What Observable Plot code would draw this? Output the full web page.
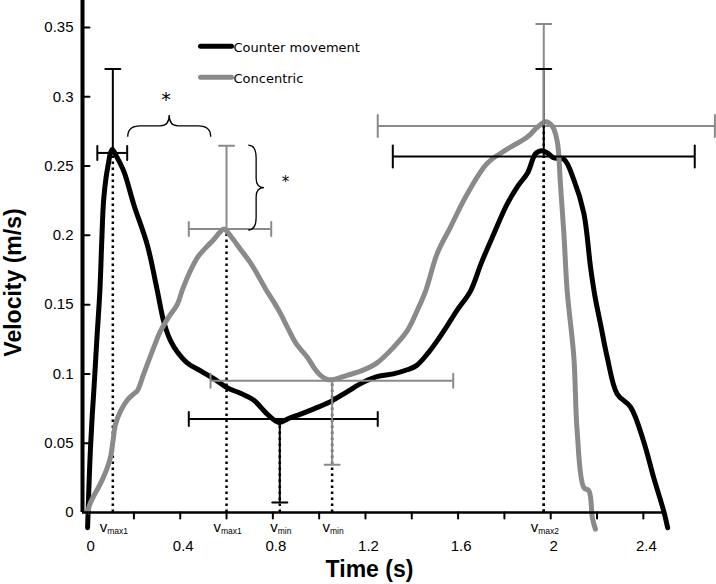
<!DOCTYPE html>
<html><head><meta charset="utf-8">
<script src="https://cdn.jsdelivr.net/npm/d3@7"></script>
<script src="https://cdn.jsdelivr.net/npm/@observablehq/plot@0.6"></script>
<style>html,body{margin:0;padding:0;background:#fff}</style>
</head><body><div id="chart"></div>
<script>
// ---------- data ----------
const seriesNames = ["Counter movement", "Concentric"];

// Counter movement curve: [time (s), velocity (m/s)]
const cmPoints = [
  [0.000,-0.011],[0.005,0.015],[0.012,0.045],[0.020,0.070],[0.027,0.088],[0.040,0.125],
  [0.053,0.160],[0.061,0.195],[0.069,0.225],[0.080,0.242],[0.090,0.252],[0.098,0.259],
  [0.107,0.262],[0.125,0.257],[0.157,0.246],[0.200,0.222],[0.258,0.193],[0.300,0.161],
  [0.330,0.137],[0.358,0.124],[0.387,0.116],[0.430,0.108],[0.490,0.102],[0.550,0.096],
  [0.603,0.090],[0.660,0.086],[0.718,0.081],[0.776,0.071],[0.826,0.065],[0.870,0.068],
  [0.920,0.071],[0.980,0.075],[1.049,0.080],[1.120,0.087],[1.179,0.093],[1.250,0.098],
  [1.320,0.100],[1.380,0.103],[1.420,0.106],[1.470,0.115],[1.510,0.124],[1.550,0.134],
  [1.596,0.146],[1.654,0.160],[1.700,0.180],[1.754,0.201],[1.810,0.222],[1.860,0.236],
  [1.900,0.245],[1.935,0.259],[1.963,0.261],[1.990,0.259],[2.012,0.256],[2.057,0.255],
  [2.100,0.240],[2.143,0.216],[2.172,0.177],[2.190,0.157],[2.215,0.136],[2.244,0.112],
  [2.287,0.0855],[2.345,0.076],[2.400,0.052],[2.445,0.025],[2.488,0.001],[2.505,-0.011]
];

// Concentric curve: [time (s), velocity (m/s)]
const conPoints = [
  [0.000,0.000],[0.010,0.006],[0.030,0.013],[0.056,0.021],[0.080,0.030],[0.099,0.040],
  [0.110,0.052],[0.121,0.064],[0.145,0.074],[0.171,0.081],[0.195,0.085],[0.215,0.088],
  [0.240,0.099],[0.258,0.107],[0.290,0.121],[0.315,0.131],[0.350,0.141],[0.387,0.150],
  [0.410,0.161],[0.440,0.173],[0.474,0.184],[0.510,0.191],[0.545,0.197],[0.570,0.202],
  [0.589,0.2046],[0.620,0.199],[0.660,0.190],[0.700,0.181],[0.733,0.172],[0.770,0.161],
  [0.804,0.152],[0.835,0.143],[0.862,0.134],[0.900,0.122],[0.949,0.112],[0.980,0.104],
  [1.006,0.099],[1.035,0.096],[1.063,0.096],[1.120,0.099],[1.179,0.102],[1.250,0.108],
  [1.320,0.119],[1.380,0.131],[1.424,0.146],[1.460,0.160],[1.510,0.187],[1.567,0.206],
  [1.640,0.230],[1.726,0.252],[1.800,0.261],[1.899,0.271],[1.942,0.278],[1.978,0.282],
  [2.006,0.279],[2.028,0.268],[2.042,0.237],[2.057,0.201],[2.071,0.160],[2.100,0.112],
  [2.114,0.059],[2.143,0.018],[2.165,0.0157],[2.180,-0.004],[2.193,-0.012]
];

// Key points with mean ± SD error bars
const markerSeries  = ["Counter movement","Concentric","Counter movement","Concentric","Counter movement","Concentric"];
const markerName    = ["max1","max1","min","min","max2","max2"];
const markerTime    = [0.109, 0.600, 0.830, 1.056, 1.970, 1.970];
const markerVel     = [0.2595, 0.2046, 0.0674, 0.0951, 0.257, 0.279];
const markerTimeLo  = [0.042, 0.437, 0.437, 0.531, 1.318, 1.253];
const markerTimeHi  = [0.171, 0.793, 1.253, 1.579, 2.622, 2.709];
const markerVelEnd  = [0.320, 0.2647, 0.0072, 0.0344, 0.320, 0.3526];

// labels under the axis
const vLabelTime = [0.109, 0.600, 0.830, 1.056, 1.970];
const vLabelSub  = ["max1", "max1", "min", "min", "max2"];

// significance annotations
const hBrace = {x1: 0.1754, x2: 0.5338, y: 0.2708, tip: 0.2865};
const vBrace = {y1: 0.2648, y2: 0.2035, x: 0.696, tip: 0.764};
const starTime = [0.339, 0.855];
const starVel  = [0.298, 0.2384];

// axes
const xDomain = [-0.022, 2.5];
const yDomain = [0, 0.3695];
const xTicks = [0, 0.2, 0.4, 0.6, 0.8, 1.0, 1.2, 1.4, 1.6, 1.8, 2.0, 2.2, 2.4];
const xTickLabels = [0, 0.4, 0.8, 1.2, 1.6, 2, 2.4];
const yTicks = [0, 0.05, 0.1, 0.15, 0.2, 0.25, 0.3, 0.35];

// ---------- build ----------
const GRAY = "#8a8a8a";
const seriesColors = ["#000000", GRAY];
const cm  = cmPoints.map(([t, v]) => ({t, v, s: seriesNames[0]}));
const con = conPoints.map(([t, v]) => ({t, v, s: seriesNames[1]}));
const markers = markerTime.map((t, i) => ({
  s: markerSeries[i], name: markerName[i], t, v: markerVel[i],
  lo: markerTimeLo[i], hi: markerTimeHi[i], end: markerVelEnd[i]
}));
const hCaps = markers.flatMap(m => [{s: m.s, name: m.name, t: m.lo, v: m.v}, {s: m.s, name: m.name, t: m.hi, v: m.v}]);
const vLabels = vLabelTime.map((t, i) => ({t, sub: vLabelSub[i]}));
const stars = starTime.map((t, i) => ({t, v: starVel[i], big: i === 0}));

const lineShape = {draw(ctx, l) { ctx.moveTo(0, 0); ctx.lineTo(0, -l); }};

function braces(index, scales) {
  const X = scales.x, Y = scales.y;
  const g = d3.create("svg:g").attr("fill", "none").attr("stroke", "#000").attr("stroke-width", 1.3);
  { // horizontal brace, tip up
    const x1 = X(hBrace.x1), x2 = X(hBrace.x2), yb = Y(hBrace.y), yt = Y(hBrace.tip);
    const xm = (x1 + x2) / 2, ym = (yb + yt) / 2, w = (x2 - x1) / 2;
    g.append("path").attr("d",
      `M${x1},${yb} Q${x1},${ym} ${x1 + 0.3 * w},${ym} L${xm - 0.22 * w},${ym} Q${xm},${ym} ${xm},${yt}` +
      ` Q${xm},${ym} ${xm + 0.22 * w},${ym} L${x2 - 0.3 * w},${ym} Q${x2},${ym} ${x2},${yb}`);
  }
  { // vertical brace, tip right
    const y1 = Y(vBrace.y1), y2 = Y(vBrace.y2), xe = X(vBrace.x), xt = X(vBrace.tip);
    const ymid = (y1 + y2) / 2, xa = (xe + xt) / 2, h = (y2 - y1) / 2;
    g.append("path").attr("d",
      `M${xe},${y1} Q${xa},${y1} ${xa},${y1 + 0.3 * h} L${xa},${ymid - 0.22 * h} Q${xa},${ymid} ${xt},${ymid}` +
      ` Q${xa},${ymid} ${xa},${ymid + 0.22 * h} L${xa},${y2 - 0.3 * h} Q${xa},${y2} ${xe},${y2}`);
  }
  return g.node();
}

const legendFont = "'DejaVu Sans', Verdana, sans-serif";

const chart = Plot.plot({
  width: 716, height: 584,
  marginLeft: 82, marginRight: 50, marginTop: 0, marginBottom: 72,
  style: {fontFamily: "'Liberation Sans', Arial, sans-serif", fontSize: "15px", color: "#000", background: "#fff", overflow: "visible"},
  x: {domain: xDomain, label: null},
  y: {domain: yDomain, label: null},
  color: {domain: seriesNames, range: seriesColors},
  marks: [
    // dotted drop lines
    Plot.ruleX(markers, {x: "t", y1: 0, y2: "v", stroke: "#000", strokeWidth: 2.5, strokeDasharray: "2.5,3.5"}),
    // curves
    Plot.line(cm,  {x: "t", y: "v", stroke: "s", strokeWidth: 5, curve: "catmull-rom", strokeLinejoin: "round"}),
    Plot.line(con, {x: "t", y: "v", stroke: "s", strokeWidth: 5, curve: "catmull-rom", strokeLinejoin: "round"}),
    // error bars
    Plot.ruleY(markers, {y: "v", x1: "lo", x2: "hi", stroke: "s", strokeWidth: 2}),
    Plot.ruleX(markers, {x: "t", y1: "v", y2: "end", stroke: "s", strokeWidth: 2}),
    Plot.vector(hCaps, {filter: d => d.name !== "max2", x: "t", y: "v", length: 14, rotate: 0, anchor: "middle", shape: lineShape, stroke: "s", strokeWidth: 2}),
    Plot.vector(hCaps, {filter: d => d.name === "max2", x: "t", y: "v", length: 22, rotate: 0, anchor: "middle", shape: lineShape, stroke: "s", strokeWidth: 2}),
    Plot.vector(markers, {x: "t", y: "end", length: 15, rotate: 90, anchor: "middle", shape: lineShape, stroke: "s", strokeWidth: 2}),
    // significance
    braces,
    Plot.text(stars, {filter: d => d.big, x: "t", y: "v", text: () => "*", fontSize: 19, fontFamily: legendFont}),
    Plot.text(stars, {filter: d => !d.big, x: "t", y: "v", text: () => "*", fontSize: 15, fontFamily: legendFont}),
    // axis lines
    Plot.ruleY([0], {stroke: "#000", strokeWidth: 2.5}),
    Plot.ruleX([xDomain[0]], {stroke: "#000", strokeWidth: 4}),
    // ticks
    Plot.vector(xTicks, {x: d => d, frameAnchor: "bottom", length: 6, rotate: 180, anchor: "start", shape: lineShape, stroke: "#000", strokeWidth: 2}),
    Plot.vector(yTicks.filter(d => d > 0), {y: d => d, frameAnchor: "left", length: 7, rotate: 90, anchor: "start", shape: lineShape, stroke: "#000", strokeWidth: 2}),
    // tick labels
    Plot.axisX({ticks: xTickLabels, tickSize: 0, tickPadding: 28, dx: 3, tickFormat: d => String(d), fontSize: 15, label: null}),
    Plot.axisY({ticks: yTicks, tickSize: 0, tickPadding: 9, tickFormat: d => String(d), fontSize: 15, label: null}),
    // v labels
    Plot.text(vLabels, {x: "t", frameAnchor: "bottom", dy: 15, dx: 1, text: d => "v" + d.sub, fontSize: 15, lineAnchor: "middle", textAnchor: "middle"}),
    // legend
    ...seriesNames.map((name, i) => Plot.vector([name], {frameAnchor: "top-left", dx: 118, dy: 45.7 + i * 31, length: 31, rotate: 90, anchor: "start", shape: lineShape, stroke: seriesColors[i], strokeWidth: 5, strokeLinecap: "round"})),
    ...seriesNames.map((name, i) => Plot.text([name], {frameAnchor: "top-left", dx: 151, dy: 47 + i * 31, text: d => d, textAnchor: "start", lineAnchor: "middle", fontSize: 13, fontFamily: legendFont})),
    // axis titles
    Plot.text(["Time (s)"], {frameAnchor: "bottom", dy: 57, dx: -5, text: d => d, fontSize: 23, fontWeight: "bold", textAnchor: "middle", lineAnchor: "middle"}),
    Plot.text(["Velocity (m/s)"], {frameAnchor: "left", dx: -69, dy: 26, rotate: -90, text: d => d, fontSize: 23, fontWeight: "bold", textAnchor: "middle", lineAnchor: "middle"})
  ]
});

// subscripts for the v labels
d3.select(chart).selectAll("text").each(function () {
  const m = /^v(max\d|min)$/.exec(this.textContent);
  if (!m) return;
  const sel = d3.select(this);
  sel.text(null);
  sel.append("tspan").text("v");
  sel.append("tspan").attr("font-size", 8.5).attr("dy", 2).text(m[1]);
});

document.getElementById("chart").appendChild(chart);
</script>
</body></html>
